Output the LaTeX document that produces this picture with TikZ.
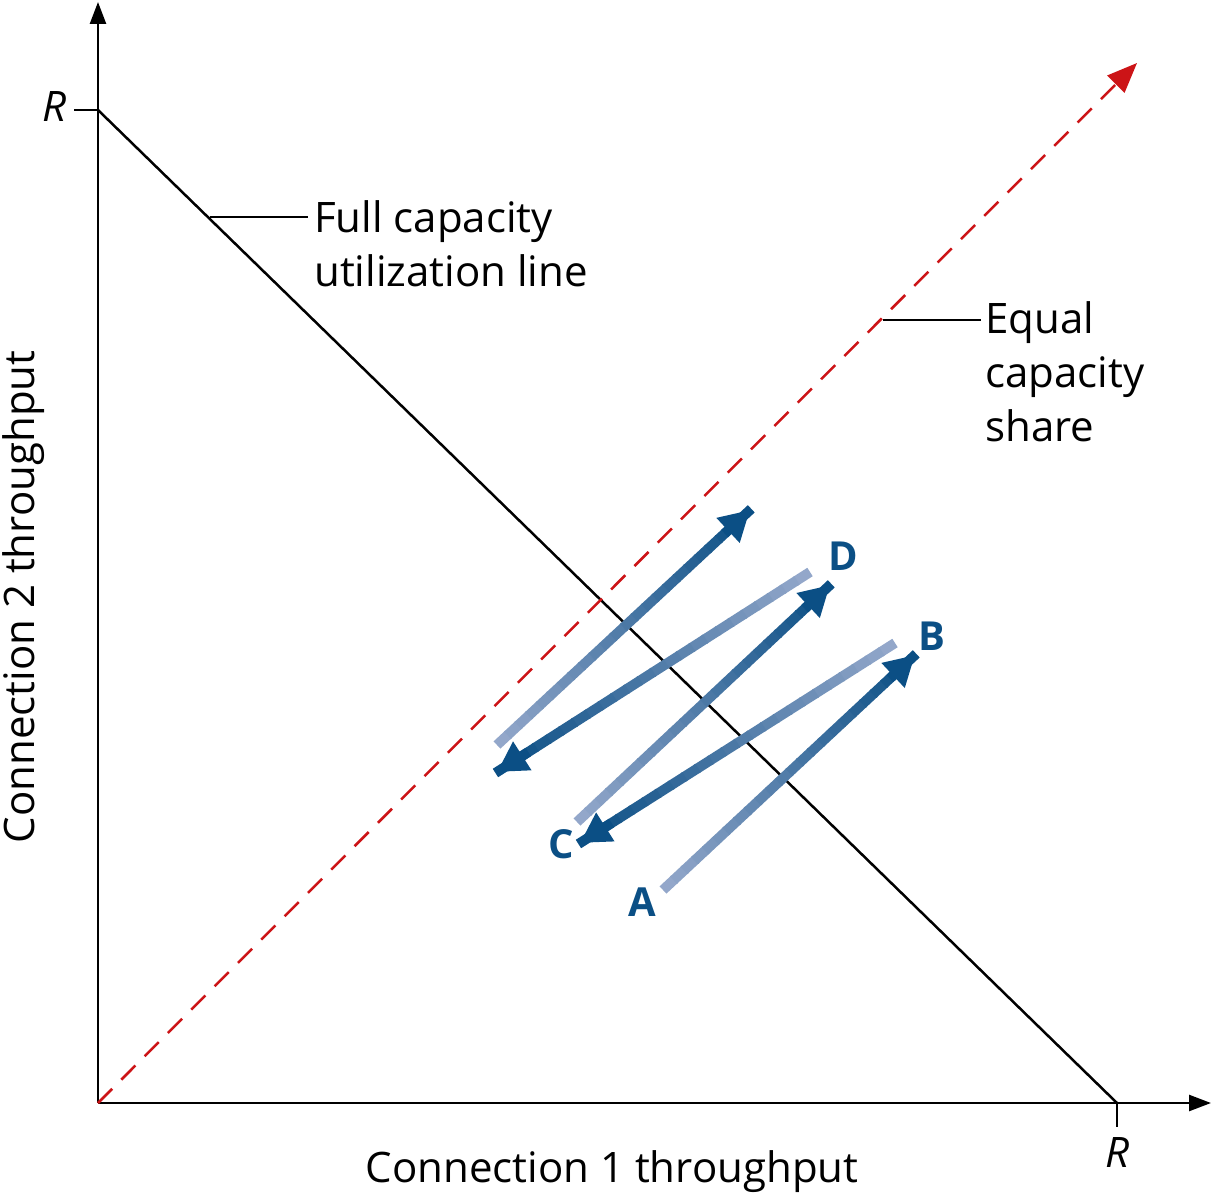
\documentclass[tikz,border=0pt]{standalone}
\usepackage{fontspec}
\setmainfont{Open Sans}
\usetikzlibrary{arrows.meta,calc}
\definecolor{lightblue}{HTML}{93A7CA}
\definecolor{darkblue}{HTML}{0B4F85}
\definecolor{eqred}{HTML}{CC1417}
\newcommand{\gradarrow}[2]{%
    \foreach \k in {0,...,23}
    {
        \pgfmathtruncatemacro{\pct}{100-\k*100/23}
        \draw[line width=10pt, lightblue!\pct!darkblue]
            ($(#1)!\k/24!(#2)$) -- ($(#1)!\k/24+1/24+0.005!(#2)$);
    }
    \draw[line width=10pt, darkblue, -{Triangle[length=30pt,width=32pt]}]
        ($(#1)!0.9!(#2)$) -- (#2);
}
\begin{document}
\begin{tikzpicture}[x=1pt, y=-1pt, line width=2.5pt,
    txt/.style={font=\fontsize{42}{54}\selectfont, inner sep=0pt},
    pt/.style={font=\fontsize{40}{48}\selectfont\bfseries, text=darkblue, inner sep=0pt}]
    \useasboundingbox (0,0) rectangle (1212,1201);
    % Achsen.
    \coordinate (o) at (98,1103);
    \coordinate (ytop) at (98,2);
    \coordinate (xend) at (1211,1103);
    \draw[-{Triangle[length=22pt,width=16pt]}] (o) -- (ytop);
    \draw[-{Triangle[length=22pt,width=16pt]}] (o) -- (xend);
    \coordinate (ry) at (98,110);
    \coordinate (rx) at (1117,1103);
    \draw (ry) -- ++(-24,0);
    \draw (rx) -- ++(0,24);
    \node[txt] (rylab) at (55,107) {\itshape R};
    \node[txt] (rxlab) at (1117,1152) {\itshape R};
    \node[txt] (xlab) at (612,1172) {Connection 1 throughput};
    \node[txt, rotate=90] (ylab) at (24,597) {Connection 2 throughput};

    % Linien.
    \draw (ry) -- (rx);
    \draw[eqred, dash pattern=on 20pt off 13pt, -{Triangle[length=30pt,width=24pt]}] (o) -- (1137,63);
    \coordinate (fl) at (210,217);
    \coordinate (el) at (883,320);
    \draw[line width=1.5pt] (fl) -- ++(98,0);
    \draw[line width=1.5pt] (el) -- ++(98,0);
    \node[txt, anchor=west, align=left] (full) at (313,244) {Full capacity\\utilization line};
    \node[txt, anchor=west, align=left] (equal) at (984,372) {Equal\\capacity\\share};

    % Pfeile.
    \coordinate (a0) at (663,890);  \coordinate (a1) at (915,655);
    \coordinate (b0) at (895,643);  \coordinate (b1) at (580,843);
    \coordinate (c0) at (577,822);  \coordinate (c1) at (830,585);
    \coordinate (d0) at (810,572);  \coordinate (d1) at (497,772);
    \coordinate (e0) at (497,745);  \coordinate (e1) at (750,510);
    \gradarrow{a0}{a1}
    \gradarrow{b0}{b1}
    \gradarrow{c0}{c1}
    \gradarrow{d0}{d1}
    \gradarrow{e0}{e1}

    % Beschriftung.
    \node[pt] (la) at (642,902) {A};
    \node[pt] (lb) at (932,636) {B};
    \node[pt] (lc) at (561,844) {C};
    \node[pt] (ld) at (843,556) {D};
\end{tikzpicture}
\end{document}
